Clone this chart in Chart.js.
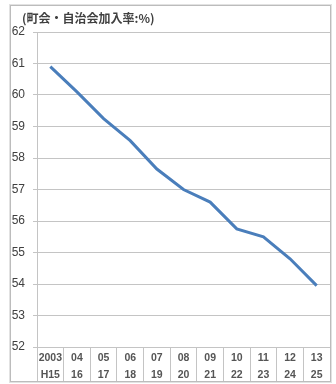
<!DOCTYPE html>
<html>
<head>
<meta charset="utf-8">
<script src="https://cdn.jsdelivr.net/npm/chart.js@4/dist/chart.umd.min.js"></script>
<style>
  html, body { margin: 0; padding: 0; background: #ffffff; overflow: hidden; }
  #wrap { position: relative; width: 336px; height: 384px; }
  canvas { display: block; position: absolute; left: 0; top: 0; }
  #frame {
    position: absolute; left: 10px; top: 5px; width: 319px; height: 375px;
    border: 1px solid #bcbcbc; box-shadow: 0 0 0 1px #e2e2e2; pointer-events: none;
  }
</style>
</head>
<body>
<div id="wrap"><canvas id="c" width="336" height="384"></canvas><div id="frame"></div></div>
<script>
// Fiscal years: western year on the first line, Heisei year on the second
const yearsWestern = ['2003', '04', '05', '06', '07', '08', '09', '10', '11', '12', '13'];
const yearsHeisei = ['H15', '16', '17', '18', '19', '20', '21', '22', '23', '24', '25'];
// Neighbourhood / residents' association membership rate (%)
const membershipRate = [60.9, 60.1, 59.25, 58.55, 57.65, 57.0, 56.6, 55.75, 55.5, 54.8, 53.95];
const yMin = 52;
const yMax = 62;
const unitTitle = '(町会・自治会加入率:%)';

const categories = yearsWestern.map((w, i) => [w, yearsHeisei[i]]);

const unitCaption = {
  id: 'unitCaption',
  afterDraw(chart) {
    const ctx = chart.ctx;
    ctx.save();
    ctx.fillStyle = '#404040';
    ctx.font = 'bold 12px "Noto Sans CJK JP", sans-serif';
    ctx.textBaseline = 'middle';
    ctx.textAlign = 'left';
    ctx.fillText(unitTitle, 22, 18);
    ctx.restore();
  }
};

new Chart(document.getElementById('c'), {
  type: 'line',
  data: {
    labels: categories,
    datasets: [{
      data: membershipRate,
      borderColor: '#4a7ebb',
      borderWidth: 3,
      pointRadius: 0,
      tension: 0,
      fill: false
    }]
  },
  options: {
    responsive: false,
    animation: false,
    devicePixelRatio: 1,
    layout: { padding: { left: 10, right: 6, top: 32, bottom: 2 } },
    plugins: {
      legend: { display: false },
      title: { display: false },
      tooltip: { enabled: false }
    },
    scales: {
      x: {
        type: 'category',
        offset: true,
        border: { display: true, color: '#c4c4c4', width: 1 },
        grid: {
          offset: true,
          drawOnChartArea: false,
          drawTicks: true,
          tickLength: 35,
          color: '#c4c4c4',
          lineWidth: 1
        },
        ticks: {
          autoSkip: false,
          maxRotation: 0,
          minRotation: 0,
          padding: -32,
          color: '#555555',
          font: { family: '"Liberation Sans", Arial, sans-serif', size: 10.5, weight: 'bold', lineHeight: 1.62 }
        },
        afterFit(scale) { scale.height = 35; }
      },
      y: {
        min: yMin,
        max: yMax,
        border: { display: true, color: '#c4c4c4', width: 1 },
        grid: {
          color: '#c4c4c4',
          lineWidth: 1,
          drawTicks: true,
          tickLength: 4
        },
        ticks: {
          stepSize: 1,
          padding: 8,
          color: '#404040',
          font: { family: '"Liberation Sans", Arial, sans-serif', size: 12 }
        },
        afterFit(scale) { scale.width = 27; }
      }
    }
  },
  plugins: [unitCaption]
});
</script>
</body>
</html>
